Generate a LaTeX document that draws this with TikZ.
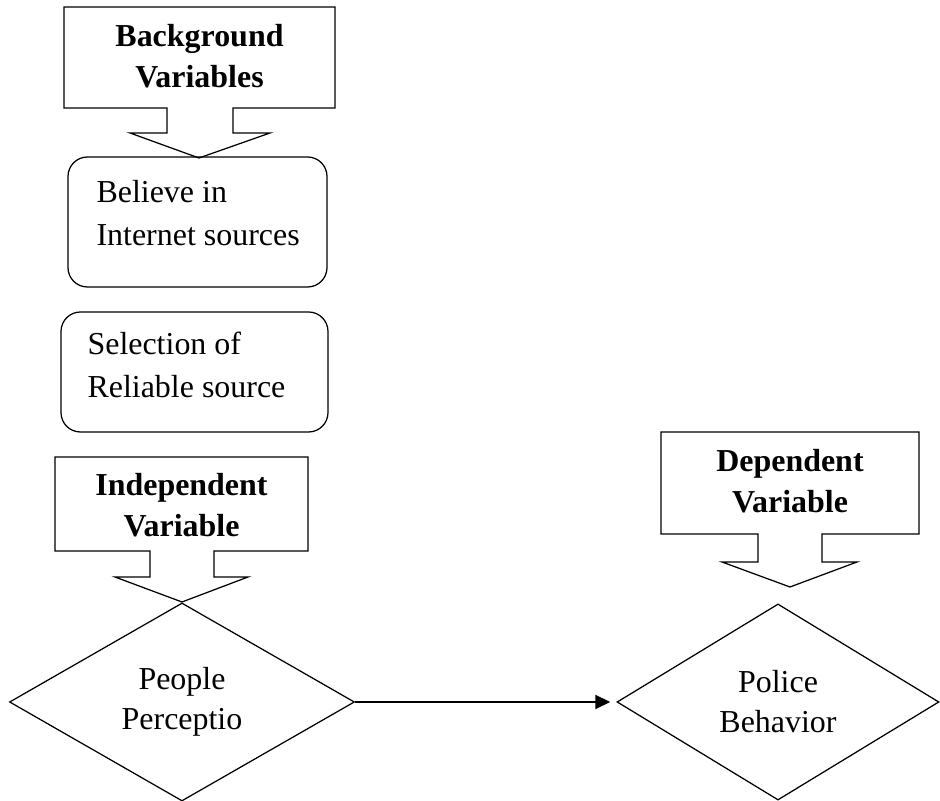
\documentclass[tikz,border=0pt]{standalone}
\usepackage{fontspec}
\setmainfont{Liberation Serif}
\usetikzlibrary{shapes.geometric,arrows.meta}

\begin{document}
\begin{tikzpicture}[x=0.36pt, y=-0.36pt,
every node/.style={font=\fontsize{11.5}{15.5}\selectfont},
varlabel/.style={align=center, inner sep=0pt, anchor=base, font=\fontsize{11.5}{14.8}\selectfont\bfseries},
callout/.style={draw=black, line width=0.45pt},
roundbox/.style={draw=black, line width=0.45pt, rounded corners=7pt},
boxtext/.style={align=left, inner sep=0pt, anchor=base west},
decision/.style={diamond, draw=black, line width=0.45pt, inner sep=0pt, aspect=1.7, align=center, font=\fontsize{11.5}{14.4}\selectfont},
flow/.style={line width=0.8pt, -{Triangle[length=5.4pt, width=5pt]}, shorten >=2.2pt}
]
\useasboundingbox (0,0) rectangle (940,801);

% background variables
\draw[callout] (64,7) -- (335,7) -- (335,108) -- (233,108) -- (233,133) -- (270,133) -- (199,158) -- (130,133) -- (167,133) -- (167,108) -- (64,108) -- cycle;
\node[varlabel](bg_var) at (199.5,88){Background\\Variables};

\draw[roundbox] (68,157) rectangle (327,287);
\node[boxtext](believe) at (96,246){Believe in\\Internet sources};
\draw[roundbox] (61,312) rectangle (328,432);
\node[boxtext](selection) at (87,398){Selection of\\Reliable source};

% independent / dependent
\draw[callout] (55,457) -- (308,457) -- (308,551) -- (214,551) -- (214,577) -- (248,577) -- (182,602) -- (115,577) -- (150,577) -- (150,551) -- (55,551) -- cycle;
\node[varlabel](indep_var) at (181.5,537){Independent\\Variable};

\draw[callout] (661,432) -- (919,432) -- (919,534) -- (822,534) -- (822,562) -- (857,562) -- (790,587) -- (722,562) -- (758,562) -- (758,534) -- (661,534) -- cycle;
\node[varlabel](dep_var) at (790,513){Dependent\\Variable};

\node[decision, minimum width=124.2pt, minimum height=71.3pt](perception) at (182,702){People\\Perceptio};
\node[decision, minimum width=115.9pt, minimum height=70.6pt](behavior) at (778,702){Police\\Behavior};

\draw[flow] (perception.east) -- (behavior.west);
\end{tikzpicture}
\end{document}
